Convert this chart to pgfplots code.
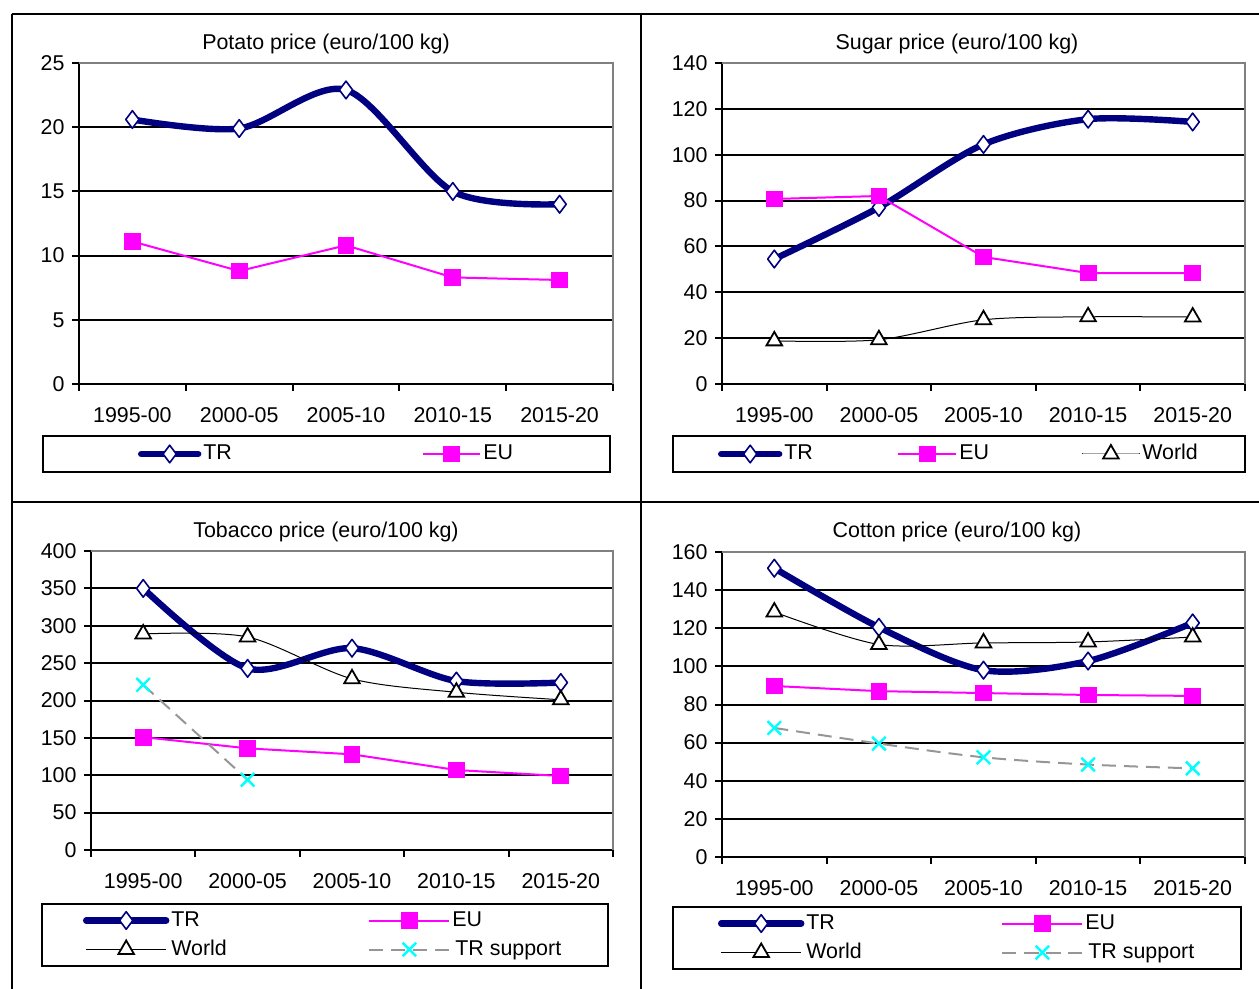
\documentclass[border=0pt]{standalone}
\usepackage{fontspec}
\setmainfont{Liberation Sans}
\usepackage{pgfplots}
\pgfplotsset{compat=1.18}
\definecolor{trnavy}{RGB}{0,0,128}
\definecolor{eumag}{RGB}{255,0,255}
\definecolor{supcyan}{RGB}{0,255,255}
\definecolor{supgray}{RGB}{150,150,150}
\definecolor{bordergray}{RGB}{128,128,128}

\pgfplotsset{
  excelbase/.style={
    scale only axis,
    anchor=south west,
    /pgf/number format/assume math mode=true,
    tick label style={font=\fontsize{10.7}{12.8}\selectfont},
    axis x line*=bottom, axis y line*=left,
    axis line style={-, line width=1pt, black},
    xmin=-0.5, xmax=4.5,
    xtick={-0.5,0.5,1.5,2.5,3.5,4.5},
    xticklabels={},
    extra x ticks={0,1,2,3,4},
    extra x tick labels={1995-00,2000-05,2005-10,2010-15,2015-20},
    extra x tick style={major tick length=0pt, tick style={draw=none}, xticklabel style={anchor=base, yshift=-19.2pt}},
    tick align=outside,
    major tick length=3.5pt,
    tick style={line width=1pt, black},
    ymajorgrids,
    grid style={line width=1pt, black},
    legend cell align=left,
    legend style={draw=black, line width=1pt, anchor=north west, fill=white,
       font=\fontsize{10.7}{12.8}\selectfont,
       nodes={inner xsep=1pt, inner ysep=0pt, text height=8pt, text depth=2.5pt},
       row sep=4pt},
    clip=false,
  },
  trstyle/.style={trnavy, line width=3.2pt, line cap=round, line join=round, smooth, tension=0.5, mark=diamond*, mark size=4.4pt, mark options={fill=white, draw=trnavy, line width=0.8pt, solid}},
  eustyle/.style={eumag, line width=1pt, mark=square*, mark size=3.7pt, mark options={fill=eumag, draw=eumag, solid}},
  wostyle/.style={black, line width=0.5pt, smooth, tension=0.5, mark=triangle*, mark size=4.5pt, mark options={fill=white, draw=black, line width=0.9pt, solid}},
  spstyle/.style={supgray, line width=1pt, dash pattern=on 7pt off 4pt, mark=x, mark size=4.8pt, mark options={draw=supcyan, line width=1.2pt, solid}},
}

\begin{document}
\fontsize{10.7}{12.8}\selectfont
\begin{tikzpicture}
\path[use as bounding box] (0pt,0pt) rectangle (629.5pt,-494.5pt);
% frame
\draw[line width=1pt] (6pt,-7pt) -- (629.5pt,-7pt);
\draw[line width=1pt] (6pt,-7pt) -- (6pt,-494.5pt);
\draw[line width=1pt] (320.5pt,-7pt) -- (320.5pt,-494.5pt);
\draw[line width=1pt] (6pt,-251pt) -- (629.5pt,-251pt);

% titles
\node at (163pt,-22pt) {Potato price (euro/100 kg)};
\node at (478.5pt,-22pt) {Sugar price (euro/100 kg)};
\node at (163pt,-266pt) {Tobacco price (euro/100 kg)};
\node at (478.5pt,-266pt) {Cotton price (euro/100 kg)};

% Potato
\begin{axis}[excelbase, at={(39.5pt,-192pt)}, width=267pt, height=160.5pt,
  ymin=0, ymax=25, ytick={0,5,...,25},
  legend columns=2,
  legend style={at={(-0.06929,-0.15888)}, inner xsep=47.5pt, inner ysep=3.75pt},
  legend image code/.code={\draw[mark repeat=2,mark phase=2,#1] plot coordinates {(0pt,0pt)(14.25pt,0pt)(28.5pt,0pt)};},
]
\addplot[trstyle] coordinates {(0,20.6)(1,19.9)(2,22.9)(3,15.0)(4,14.0)};
\addlegendentry{\makebox[108.5pt][l]{TR}}
\addplot[eustyle] coordinates {(0,11.1)(1,8.8)(2,10.8)(3,8.3)(4,8.1)};
\addlegendentry{EU}
\draw[bordergray,line width=1pt] (rel axis cs:0,1) -- (rel axis cs:1,1) -- (rel axis cs:1,0);
\end{axis}

% Sugar
\begin{axis}[excelbase, at={(361pt,-192pt)}, width=261.5pt, height=160.5pt,
  ymin=0, ymax=140, ytick={0,20,...,140},
  legend columns=3,
  legend style={at={(-0.0956,-0.15888)}, inner xsep=22.5pt, inner ysep=3.75pt},
  legend image code/.code={\draw[mark repeat=2,mark phase=2,#1] plot coordinates {(0pt,0pt)(14.5pt,0pt)(29pt,0pt)};},
]
\addplot[trstyle] coordinates {(0,54.5)(1,77)(2,104.5)(3,115.5)(4,114.3)};
\addlegendentry{\makebox[55.5pt][l]{TR}}
\addplot[eustyle] coordinates {(0,80.7)(1,82)(2,55.4)(3,48.4)(4,48.4)};
\addlegendentry{\makebox[60pt][l]{EU}}
\addplot[wostyle] coordinates {(0,18.8)(1,19.3)(2,28)(3,29.3)(4,29.2)};
\addlegendentry{World}
\draw[bordergray,line width=1pt] (rel axis cs:0,1) -- (rel axis cs:1,1) -- (rel axis cs:1,0);
\end{axis}

% Tobacco
\begin{axis}[excelbase, at={(45.5pt,-425pt)}, width=261pt, height=149.5pt,
  ymin=0, ymax=400, ytick={0,50,...,400},
  legend columns=2,
  legend style={at={(-0.09579,-0.17726)}, inner xsep=20.5pt, inner ysep=3pt},
  legend image code/.code={\draw[mark repeat=2,mark phase=2,#1] plot coordinates {(0pt,0pt)(20pt,0pt)(40pt,0pt)};},
]
\addplot[trstyle] coordinates {(0,350)(1,243)(2,270)(3,226)(4,224)};
\addlegendentry{\makebox[97.5pt][l]{TR}}
\addplot[eustyle] coordinates {(0,151)(1,136)(2,128)(3,107)(4,99)};
\addlegendentry{EU}
\addplot[wostyle] coordinates {(0,289)(1,285)(2,229)(3,211)(4,201)};
\addlegendentry{\makebox[97.5pt][l]{World}}
\addplot[spstyle] coordinates {(0,221)(1,94)};
\addlegendentry{\kern1.5pt TR support\kern2pt\relax}
\draw[bordergray,line width=1pt] (rel axis cs:0,1) -- (rel axis cs:1,1) -- (rel axis cs:1,0);
\end{axis}

% Cotton
\begin{axis}[excelbase, at={(361pt,-428.5pt)}, width=261.5pt, height=152.5pt,
  ymin=0, ymax=160, ytick={0,20,...,160},
  legend columns=2,
  legend style={at={(-0.0956,-0.16066)}, inner xsep=22.5pt, inner ysep=3pt},
  legend image code/.code={\draw[mark repeat=2,mark phase=2,#1] plot coordinates {(0pt,0pt)(20pt,0pt)(40pt,0pt)};},
]
\addplot[trstyle] coordinates {(0,151.5)(1,120.5)(2,98)(3,102.8)(4,122.8)};
\addlegendentry{\makebox[96.5pt][l]{TR}}
\addplot[eustyle] coordinates {(0,89.7)(1,87)(2,86)(3,85)(4,84.5)};
\addlegendentry{EU}
\addplot[wostyle] coordinates {(0,128.5)(1,111.5)(2,112.3)(3,112.8)(4,115.4)};
\addlegendentry{\makebox[96.5pt][l]{World}}
\addplot[spstyle, smooth, tension=0.5] coordinates {(0,67.7)(1,59.5)(2,52.3)(3,48.5)(4,46.5)};
\addlegendentry{\kern1.5pt TR support}
\draw[bordergray,line width=1pt] (rel axis cs:0,1) -- (rel axis cs:1,1) -- (rel axis cs:1,0);
\end{axis}
\end{tikzpicture}
\end{document}
